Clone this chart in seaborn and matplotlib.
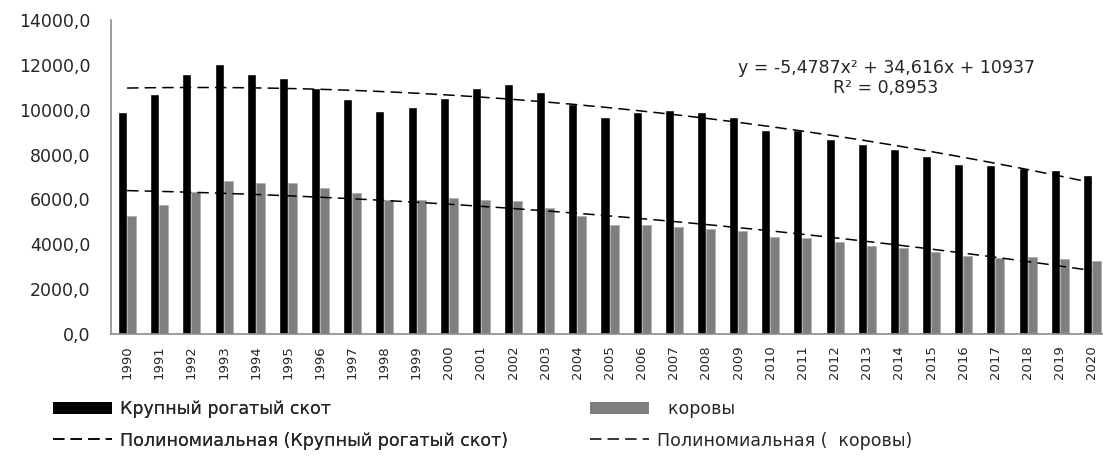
import numpy as np
import pandas as pd
import matplotlib
matplotlib.use("Agg")
import matplotlib.pyplot as plt
import seaborn as sns
from matplotlib.patches import Patch
from matplotlib.lines import Line2D

years = [str(y) for y in range(1990, 2021)]
cattle = [9900, 10700, 11600, 12050, 11600, 11430, 10980, 10490, 9950, 10100,
          10530, 10980, 11160, 10800, 10270, 9690, 9910, 10000, 9900, 9690,
          9100, 9110, 8700, 8480, 8260, 7950, 7590, 7540, 7410, 7320, 7090]
cows = [5240, 5760, 6350, 6800, 6725, 6725, 6500, 6280, 5980, 5980,
        6055, 5980, 5940, 5640, 5240, 4850, 4850, 4790, 4690, 4590,
        4345, 4270, 4120, 3940, 3825, 3645, 3480, 3405, 3420, 3360, 3260]
series_names = ["Крупный рогатый скот", "  коровы"]
trend_names = ["Полиномиальная (Крупный рогатый скот)", "Полиномиальная (  коровы)"]
cattle_coef = [-5.4787, 34.616, 10937]
equation_lines = ["y = -5,4787x\u00b2 + 34,616x + 10937", "R\u00b2 = 0,8953"]
yticks = [0, 2000, 4000, 6000, 8000, 10000, 12000, 14000]

sns.set_theme(style="white")
plt.rcParams['font.family'] = ['DejaVu Sans']
text_color = '#262626'

df = pd.DataFrame({
    "year": years * 2,
    "value": cattle + cows,
    "series": [series_names[0]] * len(years) + [series_names[1]] * len(years),
})

W, H = 1103, 457
fig = plt.figure(figsize=(W / 100, H / 100), dpi=100)
ax = fig.add_axes([111 / W, 123 / H, 997 / W, 314 / H])

colors = ['#000000', '#7f7f7f']
sns.barplot(data=df, x="year", y="value", hue="series", palette=colors,
            width=0.56, saturation=1, ax=ax, legend=False, gap=0.0)
for p in ax.patches:
    fc = p.get_facecolor()
    if fc[0] > 0.3:
        p.set_edgecolor('#b0b0b0')
        p.set_linewidth(0.6)

# polynomial trend lines
xs = np.linspace(0, len(years) - 1, 300)
t = xs + 1
y_cattle = np.polyval(cattle_coef, t)
cows_coef = np.polyfit(np.arange(1, len(years) + 1), cows, 2)
y_cows = np.polyval(cows_coef, t)
dash = (0, (7.5, 4))
ax.plot(xs, y_cattle, color='black', lw=1.1, linestyle=dash)
ax.plot(xs, y_cows, color='black', lw=1.1, linestyle=dash)

ax.set_xlim(-0.5, len(years) - 0.5)
ax.set_ylim(0, 14000)
ax.set_yticks(yticks)
ax.set_yticklabels([f"{v:.1f}".replace('.', ',') for v in yticks])
ax.set_xlabel("")
ax.set_ylabel("")
ax.tick_params(axis='y', length=0, pad=15, labelsize=12.5, labelcolor=text_color)
ax.tick_params(axis='x', length=0, pad=8, labelsize=9.5, labelcolor=text_color, rotation=90)
for s in ['top', 'right']:
    ax.spines[s].set_visible(False)
for s in ['left', 'bottom']:
    ax.spines[s].set_color('#8c8c8c')
    ax.spines[s].set_linewidth(1.2)

# equation
fig.text(886 / W, 1 - 68 / H, equation_lines[0], ha='center', va='center',
         fontsize=12.5, color=text_color)
fig.text(886 / W, 1 - 88 / H, equation_lines[1], ha='center', va='center',
         fontsize=12.5, color=text_color)

# legends
leg_kw = dict(frameon=False, fontsize=12.5, handlelength=3.4, handletextpad=0.45,
              borderpad=0, borderaxespad=0, labelspacing=0.75, loc='center left',
              labelcolor=text_color)
h1 = [Patch(facecolor=colors[0], edgecolor='none'),
      Line2D([], [], color='black', lw=1.1, linestyle=dash)]
h2 = [Patch(facecolor=colors[1], edgecolor='none'),
      Line2D([], [], color='black', lw=1.1, linestyle=dash)]
leg1 = fig.legend(h1, [series_names[0], trend_names[0]],
                  bbox_to_anchor=(53 / W, 1 - 425 / H), **leg_kw)
fig.add_artist(leg1)
leg2 = fig.legend(h2, [series_names[1], trend_names[1]],
                  bbox_to_anchor=(590 / W, 1 - 425 / H), **leg_kw)

fig.savefig("out.png", dpi=100)
